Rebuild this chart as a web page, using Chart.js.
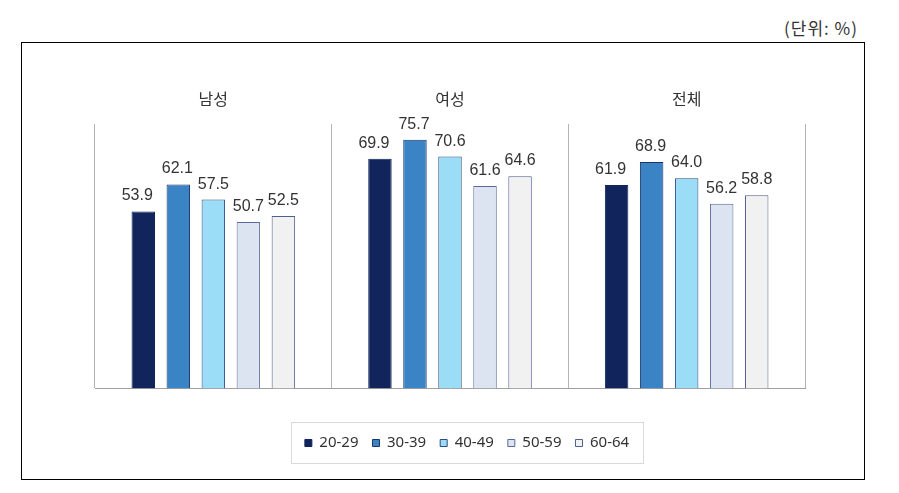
<!DOCTYPE html>
<html><head><meta charset="utf-8">
<script src="https://cdn.jsdelivr.net/npm/chart.js@4"></script>
<style>
html,body{margin:0;padding:0;background:#fff;}
#wrap{position:relative;width:899px;height:493px;overflow:hidden;background:#fff;}
#frame{position:absolute;left:21px;top:42px;width:842px;height:436px;border:1px solid #000;}
#unit{position:absolute;right:41px;top:18px;font-family:"Noto Sans CJK KR",sans-serif;font-size:17px;letter-spacing:1px;line-height:20px;color:#333;}
canvas{position:absolute;left:0;top:0;}
</style></head><body>
<div id="wrap"><div id="frame"></div><div id="unit">(단위: %)</div><canvas id="c" width="899" height="493"></canvas></div>
<script>
const categories = ['남성', '여성', '전체'];
const ageGroups = ['20-29', '30-39', '40-49', '50-59', '60-64'];
const v2029 = [53.9, 69.9, 61.9];
const v3039 = [62.1, 75.7, 68.9];
const v4049 = [57.5, 70.6, 64.0];
const v5059 = [50.7, 61.6, 56.2];
const v6064 = [52.5, 64.6, 58.8];

const seriesValues = [v2029, v3039, v4049, v5059, v6064];
const fills = ['#12245C', '#3A84C6', '#9BDDF7', '#DDE4F1', '#F1F1F1'];
const borders = ['#12245C', '#1B3468', '#2B4A80', '#5A6A98', '#4F5F8F'];
const labelShift = [-6, -1, 0, 0, 0];

const datasets = ageGroups.map((g, i) => ({
  label: g,
  data: seriesValues[i],
  backgroundColor: fills[i],
  borderColor: borders[i],
  borderWidth: 1,
  categoryPercentage: 0.74,
  barPercentage: 0.67,
  labelShift: labelShift[i]
}));

const valueLabels = {
  id: 'valueLabels',
  afterDatasetsDraw(chart) {
    const ctx = chart.ctx;
    ctx.save();
    ctx.font = '16px "Liberation Sans", Arial, sans-serif';
    ctx.fillStyle = '#333333';
    ctx.textAlign = 'center';
    ctx.textBaseline = 'alphabetic';
    chart.data.datasets.forEach((ds, i) => {
      const meta = chart.getDatasetMeta(i);
      meta.data.forEach((bar, j) => {
        ctx.fillText(ds.data[j].toFixed(1), bar.x + (ds.labelShift || 0), bar.y - 11);
      });
    });
    ctx.restore();
  }
};

const legendFrame = {
  id: 'legendFrame',
  afterDraw(chart) {
    const lg = chart.legend;
    const hb = lg.legendHitBoxes;
    if (!hb || !hb.length) return;
    const first = hb[0], last = hb[hb.length - 1];
    const cy = first.top + first.height / 2;
    const ctx = chart.ctx;
    ctx.save();
    ctx.strokeStyle = '#d9d9d9';
    ctx.lineWidth = 1;
    const x0 = Math.round(first.left - 14) + 0.5;
    const x1 = Math.round(last.left + last.width + 14) + 0.5;
    const y0 = Math.round(cy - 21) + 0.5;
    const y1 = Math.round(cy + 20) + 0.5;
    ctx.strokeRect(x0, y0, x1 - x0, y1 - y0);
    ctx.restore();
  }
};

new Chart(document.getElementById('c'), {
  type: 'bar',
  data: { labels: categories, datasets },
  options: {
    responsive: false,
    animation: false,
    events: [],
    layout: { padding: { left: 95, right: 60, top: 64, bottom: 32.5 } },
    plugins: {
      tooltip: { enabled: false },
      legend: {
        position: 'bottom',
        labels: {
          boxWidth: 7,
          boxHeight: 7,
          padding: 14,
          color: '#333333',
          font: { family: '"Noto Sans", sans-serif', size: 15 }
        }
      }
    },
    scales: {
      x: {
        position: 'bottom',
        offset: true,
        grid: { offset: true, color: '#b3b3b3', lineWidth: 1, drawTicks: false },
        border: { color: '#a0a0a0', width: 1 },
        ticks: { display: false },
        afterFit(s) { s.height = 33; }
      },
      x2: {
        type: 'category',
        labels: categories,
        position: 'top',
        offset: true,
        grid: { display: false, drawTicks: false },
        border: { display: false },
        ticks: { color: '#333333', padding: 15, font: { family: '"Noto Sans CJK KR", sans-serif', size: 16 } },
        afterFit(s) { s.height = 60; }
      },
      y: { display: false, min: 0, max: 80.5 },
      yR: {
        position: 'right',
        display: true,
        grid: { display: false, drawTicks: false },
        border: { display: false },
        ticks: { display: false },
        afterFit(s) { s.width = 34; }
      }
    }
  },
  plugins: [valueLabels, legendFrame]
});
</script>
</body></html>
